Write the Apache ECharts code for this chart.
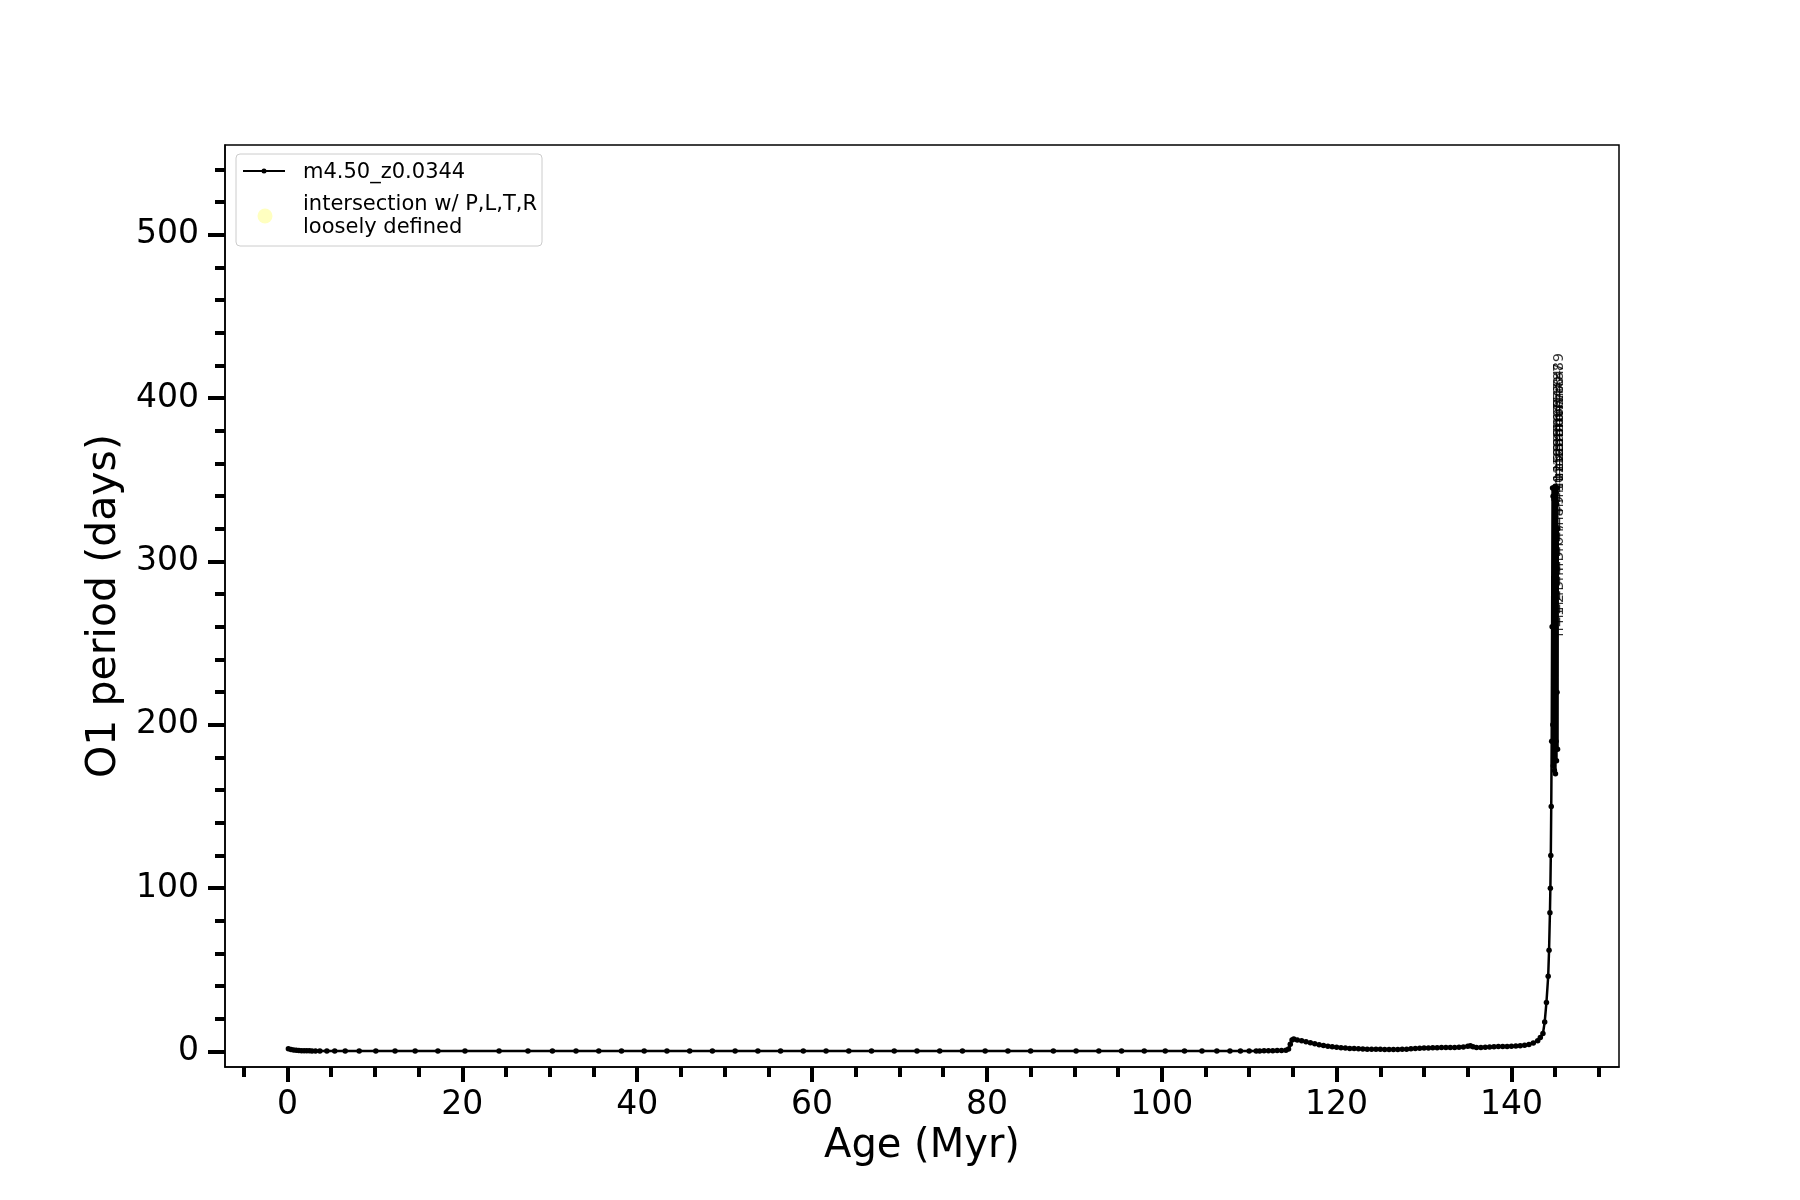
<!DOCTYPE html>
<html>
<head>
<meta charset="utf-8">
<title>O1 period vs age</title>
<script src="https://cdn.jsdelivr.net/npm/echarts@6/dist/echarts.min.js"></script>
<style>
  html, body { margin: 0; padding: 0; background: #fff; }
  #chart { width: 1800px; height: 1200px; }
</style>
</head>
<body>
<div id="chart"></div>
<script>
// track m4.50_z0.0344 : age (Myr) and O1 period (days)
const ages = [
  0.1, 0.4, 0.7, 1.0, 1.3, 1.6, 1.9, 2.2, 2.5, 2.8, 3.2, 3.7, 4.5, 5.4, 6.6, 8.2,
  10.1, 12.3, 14.6, 17.2, 20.3, 24.2, 27.5, 30.3, 33.0, 35.6, 38.2, 40.8, 43.4, 46.0,
  48.6, 51.2, 53.8, 56.4, 59.0, 61.6, 64.2, 66.8, 69.4, 72.0, 74.6, 77.2, 79.8, 82.4,
  85.0, 87.6, 90.2, 92.8, 95.4, 98.0, 100.4, 102.6, 104.6, 106.3, 107.8, 109.0, 110.0, 110.8,
  111.2, 111.7, 112.2, 112.7, 113.2, 113.7, 114.2, 114.5, 114.7, 114.9, 115.1, 115.5,
  116.0, 116.5, 117.0, 117.5, 118.0, 118.5, 119.0, 119.5, 120.0, 120.5, 121.0, 121.5,
  122.0, 122.5, 123.0, 123.5, 124.0, 124.5, 125.0, 125.5, 126.0, 126.5, 127.0, 127.5,
  128.0, 128.5, 129.0, 129.5, 130.0, 130.5, 131.0, 131.5, 132.0, 132.5, 133.0, 133.5,
  134.0, 134.5, 135.0, 135.3, 135.6, 136.0, 136.5, 137.0, 137.5, 138.0, 138.5, 139.0,
  139.5, 140.0, 140.5, 141.0, 141.5, 142.0, 142.5, 143.0, 143.3, 143.6, 143.8, 144.0,
  144.2, 144.3, 144.4, 144.45, 144.5, 144.55, 144.6, 144.65, 144.7,
  144.73, 144.76, 144.79, 144.82, 144.85, 144.88, 144.91, 144.94, 144.97, 145.0,
  145.03, 145.06, 145.09, 145.12, 145.15, 145.18, 145.21, 145.24, 145.27, 145.3
];
const periods = [
  1.6, 1.2, 0.9, 0.7, 0.6, 0.5, 0.45, 0.4, 0.4, 0.35, 0.35, 0.3, 0.3, 0.3, 0.3, 0.3,
  0.3, 0.3, 0.3, 0.3, 0.3, 0.3, 0.3, 0.3, 0.3, 0.3, 0.3, 0.3, 0.3, 0.3,
  0.3, 0.3, 0.3, 0.3, 0.3, 0.3, 0.3, 0.3, 0.3, 0.3, 0.3, 0.3, 0.3, 0.3,
  0.3, 0.3, 0.3, 0.3, 0.3, 0.3, 0.3, 0.3, 0.3, 0.3, 0.3, 0.3, 0.3, 0.3,
  0.35, 0.4, 0.45, 0.5, 0.55, 0.6, 0.7, 1.5, 4.5, 7.0, 7.6, 7.1,
  6.5, 5.9, 5.3, 4.7, 4.1, 3.6, 3.2, 2.9, 2.6, 2.3, 2.1, 1.9,
  1.8, 1.6, 1.5, 1.4, 1.3, 1.3, 1.3, 1.25, 1.2, 1.2, 1.25, 1.3,
  1.4, 1.6, 1.8, 2.0, 2.1, 2.2, 2.3, 2.3, 2.4, 2.4, 2.5, 2.5,
  2.6, 2.8, 3.2, 3.5, 2.9, 2.4, 2.4, 2.6, 2.8, 2.9, 3.0, 3.0,
  3.1, 3.2, 3.3, 3.5, 3.8, 4.3, 5.2, 6.5, 8.5, 11, 18, 30,
  46, 62, 85, 100, 120, 150, 190, 260, 345,
  200, 340, 175, 345, 230, 338, 172, 344, 205, 346,
  170, 330, 190, 342, 178, 335, 220, 345, 185, 320
];

// mode annotations near the end of the track
const annoAges = [
  145.45, 145.5, 145.45, 145.5, 145.45, 145.5, 145.45, 145.5, 145.45, 145.5,
  145.45, 145.5, 145.45, 145.5, 145.45, 145.5, 145.45, 145.5, 145.45, 145.5,
  145.45, 145.5, 145.45, 145.5, 145.45, 145.5, 145.5, 145.45, 145.5, 145.45
];
const annoPeriods = [
  254, 262, 270, 279, 288, 297, 306, 315, 322, 330,
  336, 342, 346, 349, 352, 355, 358, 361, 364, 367,
  370, 373, 376, 379, 382, 386, 390, 394, 398, 404
];
const annoTexts = [
  'n=1', 'n=2', 'n=3', 'n=4', 'n=5', 'n=6', 'n=7', 'n=8', 'n=9', 'n=10',
  'n=12', 'n=15', 'n=19', 'n=23', 'n=28', 'n=33', 'n=38', 'n=44', 'n=50', 'n=56',
  'n=60', 'n=64', 'n=68', 'n=71', 'n=74', 'n=77', 'n=80', 'n=84', 'n=87', 'n=89'
];

// tick values
const xMajorTicks = [0, 20, 40, 60, 80, 100, 120, 140];
const xMinorTicks = [-5, 5, 10, 15, 25, 30, 35, 45, 50, 55, 65, 70, 75, 85, 90, 95,
  105, 110, 115, 125, 130, 135, 145, 150];
const yMajorTicks = [0, 100, 200, 300, 400, 500];
const yMinorTicks = [20, 40, 60, 80, 120, 140, 160, 180, 220, 240, 260, 280,
  320, 340, 360, 380, 420, 440, 460, 480, 520, 540];

const FONT = 'DejaVu Sans';
const X_MIN = -7.15, X_MAX = 152.3;
const Y_MIN = -9.5, Y_MAX = 555;

const trackData = ages.map((a, i) => [a, periods[i]]);
const annoData = annoAges.map((a, i) => ({ value: [a, annoPeriods[i]], name: annoTexts[i] }));

const chart = echarts.init(document.getElementById('chart'));

const option = {
  animation: false,
  backgroundColor: '#fff',
  grid: {
    left: 225,
    top: 145,
    width: 1394,
    height: 922,
    show: true,
    borderColor: '#000',
    borderWidth: 1.5,
    backgroundColor: 'transparent',
  },
  xAxis: [
    {
      type: 'value',
      min: X_MIN,
      max: X_MAX,
      name: 'Age (Myr)',
      nameLocation: 'middle',
      nameGap: 58,
      nameTextStyle: { fontFamily: FONT, fontSize: 40, color: '#000' },
      axisLine: { show: true, onZero: false, lineStyle: { color: '#000', width: 1.5 } },
      axisTick: { show: true, customValues: xMajorTicks, length: 15, lineStyle: { color: '#000', width: 4 } },
      axisLabel: { customValues: xMajorTicks, margin: 22, fontFamily: FONT, fontSize: 33, color: '#000' },
      splitLine: { show: false },
    },
    {
      type: 'value',
      min: X_MIN,
      max: X_MAX,
      position: 'bottom',
      axisLine: { show: false, onZero: false },
      axisTick: { show: true, customValues: xMinorTicks, length: 10, lineStyle: { color: '#000', width: 4 } },
      axisLabel: { show: false },
      splitLine: { show: false },
    },
  ],
  yAxis: [
    {
      type: 'value',
      min: Y_MIN,
      max: Y_MAX,
      name: 'O1 period (days)',
      nameLocation: 'middle',
      nameGap: 98,
      nameTextStyle: { fontFamily: FONT, fontSize: 41, color: '#000' },
      axisLine: { show: true, onZero: false, lineStyle: { color: '#000', width: 1.5 } },
      axisTick: { show: true, customValues: yMajorTicks, length: 17, lineStyle: { color: '#000', width: 4 } },
      axisLabel: { customValues: yMajorTicks, margin: 26, fontFamily: FONT, fontSize: 33, color: '#000', padding: [4, 0, 0, 0] },
      splitLine: { show: false },
    },
    {
      type: 'value',
      min: Y_MIN,
      max: Y_MAX,
      position: 'left',
      axisLine: { show: false, onZero: false },
      axisTick: { show: true, customValues: yMinorTicks, length: 10, lineStyle: { color: '#000', width: 4 } },
      axisLabel: { show: false },
      splitLine: { show: false },
    },
  ],
  series: [
    {
      name: 'm4.50_z0.0344',
      type: 'line',
      data: trackData,
      symbol: 'circle',
      symbolSize: 5.5,
      showSymbol: true,
      itemStyle: { color: '#000' },
      lineStyle: { color: '#000', width: 2.5 },
      z: 3,
    },
    {
      name: 'annotations',
      type: 'scatter',
      data: annoData,
      symbolSize: 0,
      label: {
        show: true,
        formatter: p => p.name,
        position: 'inside',
        rotate: 90,
        align: 'left',
        verticalAlign: 'middle',
        fontFamily: FONT,
        fontSize: 14,
        color: '#000',
      },
      z: 4,
    },
  ],
  // legend box, drawn like the matplotlib one
  graphic: [
    {
      type: 'rect',
      shape: { x: 236, y: 154, width: 306, height: 92, r: 4 },
      style: { fill: 'rgba(255,255,255,0.8)', stroke: '#cccccc', lineWidth: 1 },
      z: 10,
    },
    {
      type: 'line',
      shape: { x1: 243, y1: 171, x2: 285, y2: 171 },
      style: { stroke: '#000', lineWidth: 2 },
      z: 11,
    },
    {
      type: 'circle',
      shape: { cx: 264, cy: 171, r: 2.5 },
      style: { fill: '#000' },
      z: 11,
    },
    {
      type: 'text',
      x: 303,
      y: 173,
      style: { text: 'm4.50_z0.0344', fontFamily: FONT, fontSize: 21, fill: '#000', verticalAlign: 'middle' },
      z: 11,
    },
    {
      type: 'circle',
      shape: { cx: 265, cy: 216, r: 7.5 },
      style: { fill: 'rgba(255,255,150,0.6)' },
      z: 11,
    },
    {
      type: 'text',
      x: 303,
      y: 205,
      style: { text: 'intersection w/ P,L,T,R', fontFamily: FONT, fontSize: 21, fill: '#000', verticalAlign: 'middle' },
      z: 11,
    },
    {
      type: 'text',
      x: 303,
      y: 228,
      style: { text: 'loosely defined', fontFamily: FONT, fontSize: 21, fill: '#000', verticalAlign: 'middle' },
      z: 11,
    },
  ],
};

chart.setOption(option);
</script>
</body>
</html>
